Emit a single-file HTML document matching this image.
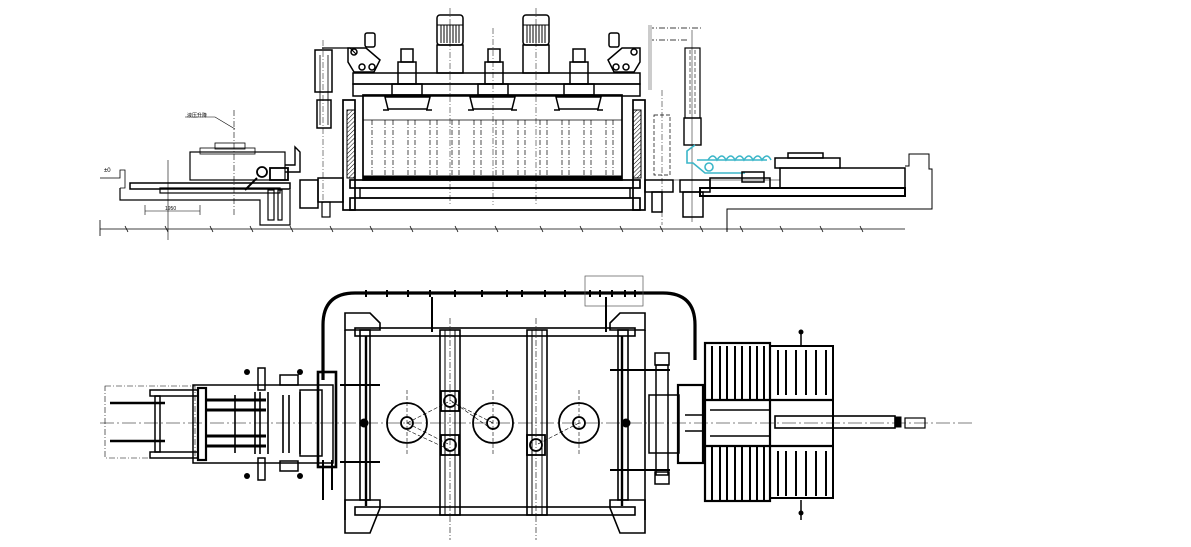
<!DOCTYPE html>
<html><head><meta charset="utf-8"><style>
html,body{margin:0;padding:0;background:#fff;}
svg{display:block;}
text{font-family:"Liberation Sans","Noto Sans CJK SC",sans-serif;}
</style></head><body>
<svg width="1191" height="547" viewBox="0 0 1191 547" xmlns="http://www.w3.org/2000/svg" fill="none" stroke="#000" stroke-width="1">
<defs><pattern id="hatch" width="3" height="3" patternUnits="userSpaceOnUse" patternTransform="rotate(45)"><line x1="0" y1="0" x2="0" y2="3" stroke="#000" stroke-width="1"/></pattern></defs>
<!-- ============ TOP ELEVATION ============ -->
<line x1="100" y1="229" x2="905" y2="229" stroke-width="0.8"/>
<g stroke-width="0.8">
<path d="M100 220V236M125 226l3 6M165 226l3 6M210 226l3 6M250 226l3 6M290 226l3 6M330 226l3 6M370 226l3 6M410 226l3 6M455 226l3 6M495 226l3 6M540 226l3 6M580 226l3 6M620 226l3 6M660 226l3 6M700 226l3 6M740 226l3 6M780 226l3 6M820 226l3 6M860 226l3 6"/>
</g>
<!-- left loader -->
<path d="M100 178h20v-8h5v18h-5" stroke-width="0.8"/>
<text x="104" y="172" font-size="6" fill="#000" stroke="none">±0</text>
<path d="M120 188v12h140v25h30v-35" stroke-width="1.2"/>
<rect x="130" y="183" width="160" height="6" stroke-width="1.5"/>
<rect x="160" y="188" width="120" height="5" stroke-width="1.2"/>
<rect x="190" y="152" width="95" height="28" stroke-width="1.2"/>
<rect x="200" y="148" width="55" height="6" stroke-width="0.8"/>
<rect x="215" y="143" width="30" height="6" stroke-width="0.8"/>
<path d="M285 165h10v-18l5 5v20h-15" stroke-width="1.4"/>
<circle cx="262" cy="172" r="5" stroke-width="1.8"/>
<rect x="270" y="168" width="18" height="12" stroke-width="1.8"/>
<path d="M245 190l12-12" stroke-width="2"/>
<rect x="268" y="190" width="6" height="30" stroke-width="1.2"/>
<rect x="278" y="190" width="4" height="30" stroke-width="1.2"/>
<path d="M145 205v10M200 205v10M145 211h55" stroke-width="0.6"/>
<text x="165" y="210" font-size="5" fill="#000" stroke="none">1950</text>
<path d="M185 117h30l20 12" stroke-width="0.6"/>
<text x="187" y="117" font-size="5" fill="#000" stroke="none">液压升降</text>
<line x1="234" y1="110" x2="234" y2="215" stroke-dasharray="6 2 1 2" stroke-width="0.6"/>
<line x1="168" y1="160" x2="168" y2="240" stroke-width="0.6"/>
<!-- left lift column -->
<rect x="315" y="50" width="17" height="42" stroke-width="1.5"/>
<rect x="317" y="100" width="14" height="28" stroke-width="1.5"/>
<line x1="320" y1="55" x2="320" y2="125" stroke-width="0.8"/>
<line x1="328" y1="55" x2="328" y2="125" stroke-width="0.8"/>
<path d="M322 48h28l6 6" stroke-width="1.2"/>
<line x1="323" y1="40" x2="323" y2="205" stroke-dasharray="6 2 1 2" stroke-width="0.5"/>
<rect x="300" y="180" width="18" height="28" stroke-width="1.5"/>
<rect x="318" y="178" width="25" height="24" stroke-width="1.5"/>
<rect x="322" y="202" width="8" height="15" stroke-width="1.2"/>
<!-- press frame -->
<rect x="343" y="100" width="12" height="110" stroke-width="1.7"/>
<rect x="633" y="100" width="12" height="110" stroke-width="1.7"/>
<rect x="347" y="110" width="8" height="68" fill="url(#hatch)" stroke-width="1"/>
<rect x="633" y="110" width="8" height="68" fill="url(#hatch)" stroke-width="1"/>
<rect x="353" y="73" width="287" height="11" stroke-width="1.5"/>
<rect x="353" y="84" width="287" height="12" stroke-width="1.5"/>
<rect x="363" y="95" width="259" height="85" stroke-width="1.7"/>
<line x1="363" y1="120" x2="622" y2="120" stroke-width="0.8"/>
<g stroke-width="0.7" stroke-dasharray="5 2 1 2">
<path d="M372 120v58M385 120v58M393 120v58M408 120v58M415 120v58M430 120v58M437 120v58M452 120v58M459 120v58M474 120v58M481 120v58M496 120v58M503 120v58M518 120v58M525 120v58M540 120v58M547 120v58M562 120v58M569 120v58M584 120v58M591 120v58M606 120v58M613 120v58"/>
</g>
<rect x="363" y="176" width="259" height="4" fill="#000"/>
<rect x="350" y="180" width="290" height="8" stroke-width="1.7"/>
<rect x="360" y="188" width="270" height="10" stroke-width="1.4"/>
<rect x="350" y="198" width="290" height="12" stroke-width="1.7"/>
<g stroke-width="1.5">
<path d="M385 97h45l-3 12h-39z"/><path d="M470 97h45l-3 12h-39z"/><path d="M556 97h45l-3 12h-39z"/>
<path d="M383 110h6M426 110h6M468 110h6M511 110h6M554 110h6M597 110h6"/>
</g>
<g stroke-width="1.5">
<rect x="398" y="62" width="18" height="22"/><rect x="401" y="49" width="12" height="13"/>
<rect x="485" y="62" width="18" height="22"/><rect x="488" y="49" width="12" height="13"/>
<rect x="570" y="62" width="18" height="22"/><rect x="573" y="49" width="12" height="13"/>
<rect x="392" y="84" width="30" height="11"/><rect x="478" y="84" width="30" height="11"/><rect x="564" y="84" width="30" height="11"/>
</g>
<g stroke-width="1.5">
<rect x="437" y="15" width="26" height="30" rx="3"/>
<rect x="523" y="15" width="26" height="30" rx="3"/>
<rect x="437" y="45" width="26" height="28"/>
<rect x="523" y="45" width="26" height="28"/>
</g>
<g stroke-width="1">
<path d="M441 25v18M444 25v18M447 25v18M450 25v18M453 25v18M456 25v18M459 25v18"/>
<path d="M527 25v18M530 25v18M533 25v18M536 25v18M539 25v18M542 25v18M545 25v18"/>
<line x1="437" y1="25" x2="463" y2="25"/><line x1="523" y1="25" x2="549" y2="25"/>
</g>
<line x1="450" y1="8" x2="450" y2="205" stroke-dasharray="6 2 1 2" stroke-width="0.5"/>
<line x1="536" y1="8" x2="536" y2="205" stroke-dasharray="6 2 1 2" stroke-width="0.5"/>
<line x1="493" y1="28" x2="493" y2="205" stroke-dasharray="6 2 1 2" stroke-width="0.5"/>
<g stroke-width="1.5">
<path d="M348 48l18 0 14 12-6 12h-20l-6-10z"/>
<circle cx="354" cy="52" r="3"/><circle cx="362" cy="67" r="3"/><circle cx="372" cy="67" r="3"/>
<rect x="365" y="33" width="10" height="14" rx="2"/>
<path d="M640 48l-18 0-14 12 6 12h20l6-10z"/>
<circle cx="634" cy="52" r="3"/><circle cx="626" cy="67" r="3"/><circle cx="616" cy="67" r="3"/>
<rect x="609" y="33" width="10" height="14" rx="2"/>
</g>
<path d="M648 28h55M648 40h40" stroke-dasharray="6 2 1 2" stroke-width="0.8"/>
<rect x="648" y="25" width="4" height="65" fill="#ccc" stroke="none"/>
<rect x="654" y="115" width="16" height="60" stroke-dasharray="4 2" stroke-width="0.7"/>
<line x1="662" y1="90" x2="662" y2="225" stroke-dasharray="6 2 1 2" stroke-width="0.5"/>
<rect x="685" y="48" width="15" height="70" stroke-width="1.2"/>
<rect x="684" y="118" width="17" height="27" stroke-width="1.4"/>
<path d="M690 50v65M695 50v65" stroke-dasharray="4 2" stroke-width="0.6"/>
<line x1="692" y1="30" x2="692" y2="222" stroke-width="0.5"/>
<g stroke="#3bb6c8" stroke-width="1.6">
<path d="M695 145l-8 6v12h6l12 10h40"/>
<path d="M697 160h70"/>
<path d="M708 160q5-8 9 0q5-8 9 0q5-8 9 0q5-8 9 0q5-8 9 0q5-8 9 0q5-8 9 0"/>
<circle cx="709" cy="167" r="4"/>
</g>
<g stroke-width="1.5">
<rect x="645" y="180" width="28" height="12"/>
<rect x="652" y="192" width="10" height="20"/>
<rect x="680" y="180" width="30" height="12"/>
<rect x="683" y="192" width="20" height="25"/>
<rect x="710" y="178" width="60" height="10"/>
<rect x="742" y="172" width="22" height="10"/>
<rect x="775" y="158" width="65" height="10"/>
<rect x="788" y="153" width="35" height="5"/>
<rect x="780" y="168" width="125" height="20"/>
<rect x="700" y="188" width="205" height="8" stroke-width="2"/>
</g>
<path d="M727 232v-23h205v-40h-3v-15h-20v12h-4" stroke-width="1"/>
<line x1="660" y1="180" x2="780" y2="180" stroke-width="0.6"/>
<!-- ============ PLAN VIEW ============ -->
<line x1="100" y1="423" x2="975" y2="423" stroke-width="0.6" stroke-dasharray="14 3 2 3"/>
<path d="M323 380V325q0-32 32-32h308q32 0 32 32v35" stroke-width="3.2"/>
<path d="M326 380V326q0-29 29-29h308q29 0 29 29v34" stroke="#fff" stroke-width="1.2"/>
<g stroke-width="2">
<path d="M366 290v7M387 290v7M408 290v7M430 290v7M455 290v7M482 290v7M507 290v7M522 290v7M545 290v7M565 290v7M590 290v7M600 290v7M612 290v7M625 290v7M635 290v7"/>
</g>
<rect x="585" y="276" width="58" height="30" stroke-width="0.7" stroke="#555"/>
<path d="M432 297v35M606 297v35" stroke-width="2"/>
<g stroke-width="1.6">
<path d="M345 313h25l10 10v7h-35z"/><path d="M345 330v190"/>
<path d="M645 313h-25l-10 10v7h35z"/><path d="M645 330v190"/>
<path d="M345 500h35v8l-10 25h-25z"/><path d="M645 500h-35v8l10 25h25z"/>
<rect x="360" y="330" width="10" height="170"/>
<rect x="618" y="330" width="10" height="170"/>
<rect x="355" y="328" width="280" height="8"/>
<rect x="355" y="507" width="280" height="8"/>
<rect x="440" y="330" width="20" height="185"/>
<rect x="527" y="330" width="20" height="185"/>
<path d="M445 330v185M455 330v185M532 330v185M542 330v185" stroke-width="1"/>
</g>
<path d="M366 336v170M622 336v170" stroke-width="2.4"/>
<path d="M450 318v222M536 318v222" stroke-dasharray="6 2 1 2" stroke-width="0.6"/>
<g stroke-width="1.8">
<circle cx="407" cy="423" r="20"/><circle cx="493" cy="423" r="20"/><circle cx="579" cy="423" r="20"/>
<circle cx="407" cy="423" r="6"/><circle cx="493" cy="423" r="6"/><circle cx="579" cy="423" r="6"/>
<rect x="441" y="391" width="18" height="20"/><circle cx="450" cy="401" r="6"/>
<rect x="441" y="435" width="18" height="20"/><circle cx="450" cy="445" r="6"/>
<rect x="527" y="435" width="18" height="20"/><circle cx="536" cy="445" r="6"/>
</g>
<g stroke-width="0.6" stroke-dasharray="4 2">
<path d="M407 423l43-22M407 423l43 22M493 423l-43-22M579 423l-43 22M407 430l43 20M493 430l-43-30"/>
<path d="M407 390v66M493 390v66M579 390v66"/>
</g>
<circle cx="364" cy="423" r="4" fill="#000"/><circle cx="626" cy="423" r="4" fill="#000"/>
<path d="M340 385h40M340 462h40M610 370h60M610 470h60" stroke-width="2"/>
<!-- left loader plan -->
<rect x="105" y="386" width="90" height="72" stroke-dasharray="6 2 1 2" stroke-width="0.6"/>
<g stroke-width="1.5">
<path d="M110 403h55M110 441h55" stroke-width="2.5"/>
<rect x="150" y="390" width="48" height="6"/><rect x="150" y="452" width="48" height="6"/>
<rect x="155" y="396" width="5" height="56"/>
<rect x="193" y="385" width="140" height="78"/>
<rect x="198" y="388" width="8" height="72" stroke-width="2.2"/>
<path d="M206 400h60M206 410h60M206 436h60M206 446h60" stroke-width="3"/>
<path d="M235 395v58M255 392v62M260 392v62M268 392v62M283 395v58M289 395v58M300 392v62" stroke-width="1.6"/>
<rect x="258" y="368" width="7" height="22"/><rect x="258" y="458" width="7" height="22"/>
<rect x="280" y="375" width="18" height="10"/><rect x="280" y="461" width="18" height="10"/>
<rect x="300" y="390" width="22" height="66"/>
<rect x="318" y="372" width="18" height="95" stroke-width="2.6"/>
</g>
<g fill="#000" stroke="none"><circle cx="247" cy="372" r="3"/><circle cx="300" cy="372" r="3"/><circle cx="247" cy="476" r="3"/><circle cx="300" cy="476" r="3"/></g>
<path d="M323 460v40M332 460v30" stroke-width="2"/>
<!-- right plan section -->
<g stroke-width="1.5">
<rect x="649" y="395" width="30" height="58"/>
<rect x="655" y="353" width="14" height="12"/><rect x="655" y="472" width="14" height="12"/>
<rect x="656" y="365" width="12" height="110"/>
<rect x="678" y="385" width="25" height="78" stroke-width="2.2"/>
<rect x="705" y="343" width="65" height="158" stroke-width="2.2"/>
<rect x="770" y="346" width="63" height="152" stroke-width="2"/>
<path d="M705 400h128M705 446h128" stroke-width="2.2"/>
</g>
<g stroke-width="2">
<path d="M712 346v55M720 346v55M727 346v55M735 346v55M742 346v55M750 346v55M757 346v55M764 346v55M712 446v55M720 446v55M727 446v55M735 446v55M742 446v55M750 446v55M757 446v55M764 446v55"/>
<path d="M778 350v45M786 350v45M796 350v45M806 350v45M816 350v45M826 350v45M778 451v45M786 451v45M796 451v45M806 451v45M816 451v45M826 451v45"/>
</g>
<path d="M710 410h60M710 436h60M705 415h-20M705 431h-20" stroke-width="1.6"/>
<rect x="775" y="416" width="120" height="12" stroke-width="1.6"/>
<rect x="895" y="417" width="6" height="10" fill="#000"/>
<rect x="905" y="418" width="20" height="10" stroke-width="1.2"/>
<path d="M801 330v15M801 500v20" stroke-width="1.5"/>
<circle cx="801" cy="332" r="2" fill="#000"/><circle cx="801" cy="513" r="2" fill="#000"/>
</svg>
</body></html>
